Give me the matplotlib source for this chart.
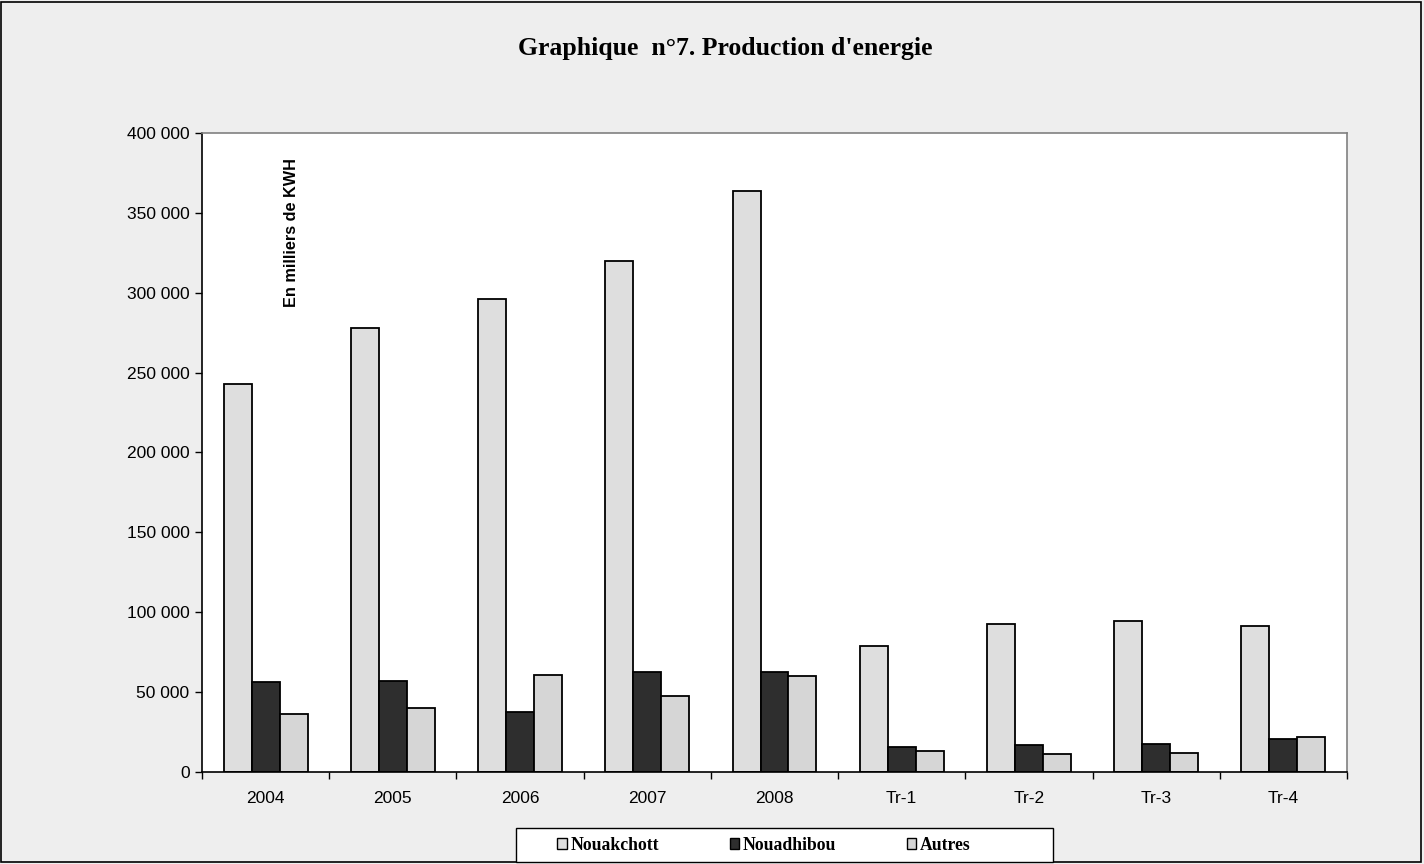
import numpy as np
import matplotlib
matplotlib.use('Agg')
from matplotlib import pyplot as plt
from matplotlib.ticker import FuncFormatter, FixedLocator
from matplotlib.patches import Rectangle

# data, en milliers de KWH
categories = ['2004', '2005', '2006', '2007', '2008', 'Tr-1', 'Tr-2', 'Tr-3', 'Tr-4']
nouakchott = [243000, 278000, 296000, 320000, 364000, 79000, 92800, 94600, 91400]
nouadhibou = [56300, 57000, 37600, 62600, 62600, 15600, 16900, 17500, 20500]
autres = [36300, 40000, 60700, 47600, 60100, 13100, 11300, 11900, 21900]
series_names = ['Nouakchott', 'Nouadhibou', 'Autres']

W, H = 1424, 864
fig = plt.figure(figsize=(W/100, H/100), dpi=100)
fig.patch.set_facecolor('#eeeeee')
# outer frame
fig.patches.append(Rectangle((0.001, 0.002), 0.997, 0.996, transform=fig.transFigure,
                             fill=False, edgecolor='black', linewidth=1.2))

ax = fig.add_axes([202/W, (H-772)/H, 1145/W, 639/H])
ax.set_facecolor('white')

x = np.arange(len(categories))
bw = 0.22
colors = ['#dedede', '#2e2e2e', '#d6d6d6']
for k, (vals, c) in enumerate(zip([nouakchott, nouadhibou, autres], colors)):
    ax.bar(x + (k-1)*bw, vals, width=bw, color=c, edgecolor='black', linewidth=1.3,
           label=series_names[k], zorder=2)

ax.set_xlim(-0.5, len(categories)-0.5)
ax.set_ylim(0, 400000)
ax.set_yticks(np.arange(0, 400001, 50000))
ax.yaxis.set_major_formatter(FuncFormatter(lambda v, p: '{:,}'.format(int(v)).replace(',', ' ')))
ax.set_xticks(x)
ax.set_xticklabels(categories)
ax.xaxis.set_minor_locator(FixedLocator(np.arange(-0.5, len(categories), 1.0)))
ax.tick_params(axis='x', which='major', length=0, pad=14)
ax.tick_params(axis='x', which='minor', length=5, direction='out', width=1)
ax.tick_params(axis='y', length=5, direction='out', width=1, pad=4)
for lab in ax.get_xticklabels() + ax.get_yticklabels():
    lab.set_fontfamily('Liberation Sans')
    lab.set_fontsize(12.5)

ax.spines['left'].set_color('black')
ax.spines['bottom'].set_color('black')
ax.spines['top'].set_color('#808080')
ax.spines['right'].set_color('#808080')
for s in ax.spines.values():
    s.set_linewidth(1.2)

ax.text(0.0786, 0.961, 'En milliers de KWH', transform=ax.transAxes, rotation=90,
        ha='center', va='top', fontsize=11.7, fontweight='bold', family='Liberation Sans')

fig.text(725/W, 1 - 48/H, "Graphique  n°7. Production d'energie", ha='center', va='center',
         fontsize=18.5, fontweight='bold', family='Liberation Serif')

# legend box drawn separately (wider than its content)
fig.patches.append(Rectangle((516/W, 1 - 862/H), 537/W, 34/H, transform=fig.transFigure,
                             facecolor='white', edgecolor='black', linewidth=1.0, zorder=1))
leg = fig.legend(loc='center', bbox_to_anchor=(764/W, 1 - 845/H), ncol=3, frameon=False,
                 handlelength=0.55, handleheight=0.55,
                 handletextpad=0.2, columnspacing=4.0, borderpad=0.2,
                 prop={'family': 'Liberation Serif', 'weight': 'bold', 'size': 12.7})
leg.set_zorder(3)
for h in leg.legend_handles:
    h.set_linewidth(1.0)

fig.savefig('out.png', dpi=100, facecolor=fig.get_facecolor())
